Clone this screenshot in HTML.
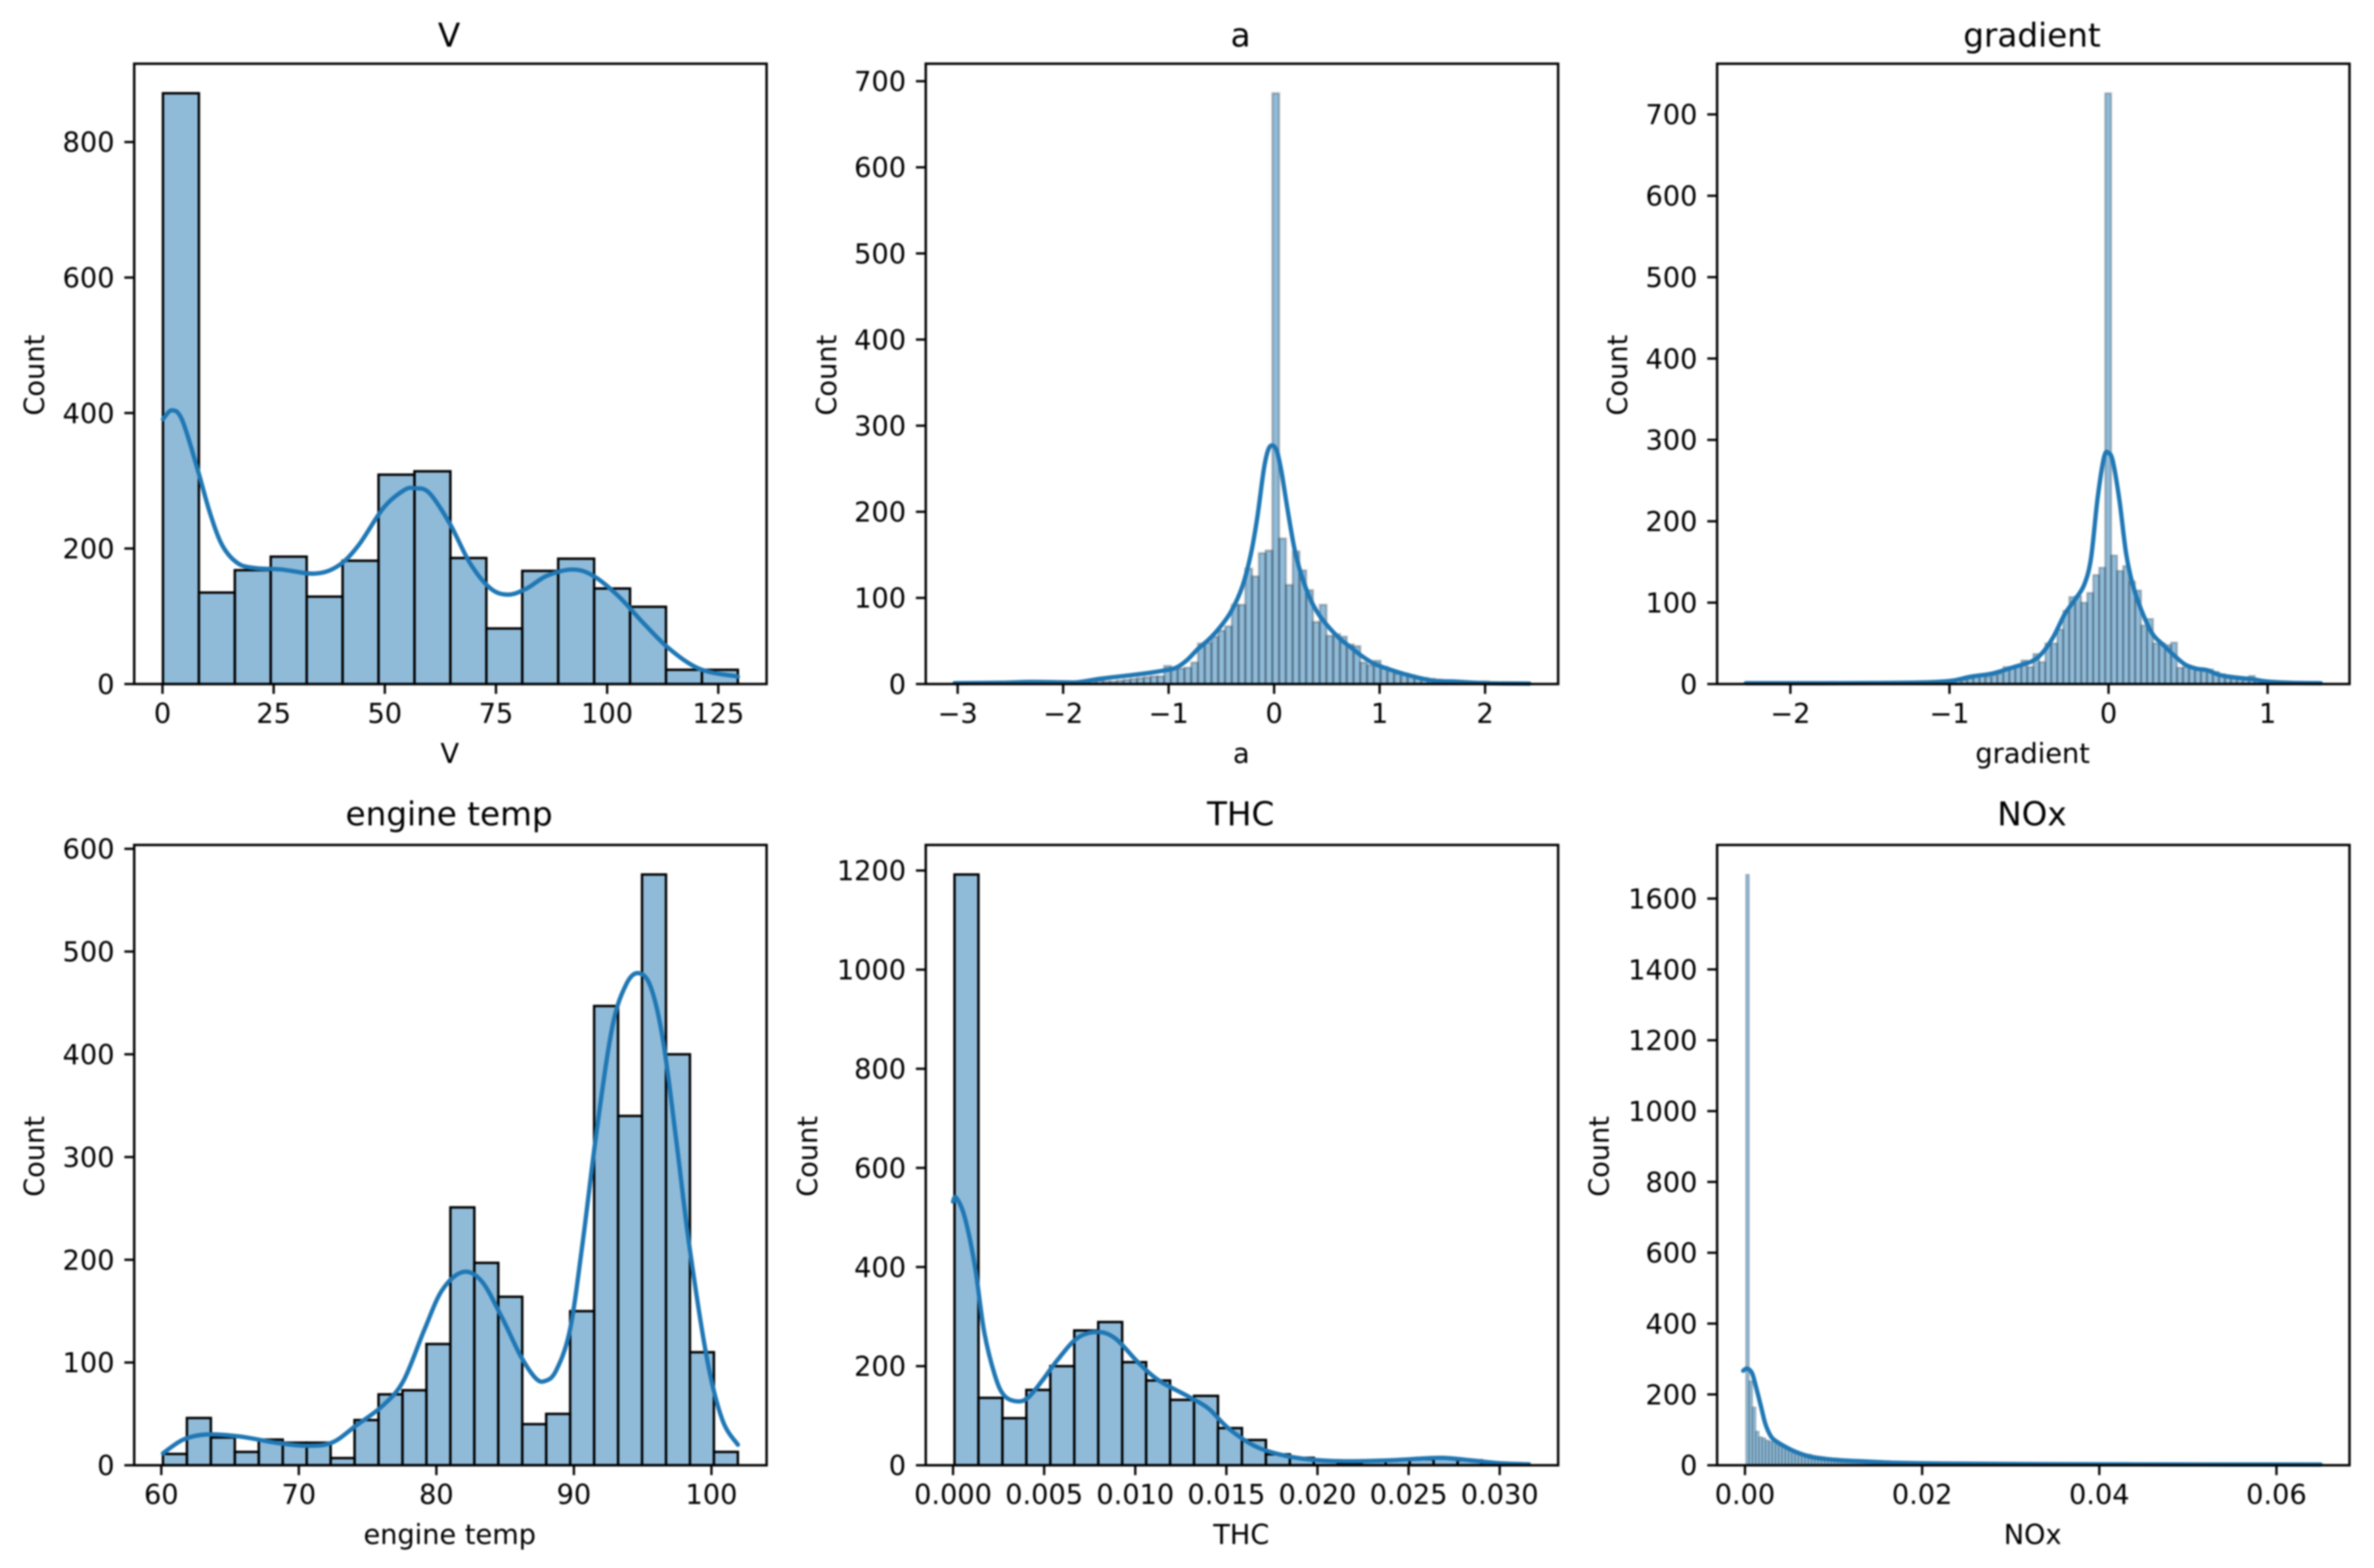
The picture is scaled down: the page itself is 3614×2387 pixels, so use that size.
<!DOCTYPE html>
<html>
<head>
<meta charset="utf-8">
<title>Distribution histograms</title>
<style>
html,body{margin:0;padding:0;background:#fff;}
body{width:3614px;height:2387px;overflow:hidden;}
svg{display:block;filter:blur(1.2px);}
text{font-family:"DejaVu Sans","Liberation Sans",sans-serif;fill:#000;}
</style>
</head>
<body>
<svg id="figure" xmlns="http://www.w3.org/2000/svg" width="3614" height="2387" viewBox="0 0 3614 2387"></svg>
<script>
// ---- V ----
const vRange = [0.1, 129.4];
const vCounts = [872,135,168,188,129,182,309,314,186,82,167,185,141,114,21,21];
const vKdeX = [0.1,2.1,4.4,7.8,10.7,13.5,17,21,26.8,34.2,39.4,44,49.7,54.3,56.8,60,64.6,69.2,73.8,77.8,81.9,86.5,92.2,96.8,102.5,108.3,114,120.9,129.4];
const vKdeY = [391,404,390,319,252,204,178,171,169,163,174,204,260,286,289,282,237,178,141,132,141,160,169,160,130,89,52,22,11];
const vXTicks = [0,25,50,75,100,125];
const vXLabels = ['0','25','50','75','100','125'];
const vYTicks = [0,200,400,600,800];
const vYLabels = ['0','200','400','600','800'];

// ---- a ----
const aRange = [-3.03, 2.42];
const aCounts = [1,1,0,1,1,1,2,2,1,2,2,2,2,1,2,2,3,3,3,2,3,4,3,3,4,5,6,7,8,9,9,21,19,18,19,25,47,48,55,62,67,92,92,134,125,152,155,686,169,115,154,132,109,72,92,56,58,55,46,44,25,22,27,20,16,12,12,10,8,7,6,5,4,4,3,3,2,2,3,2,1,1,1,1,0];
const aKdeX = [-3.03,-2.6,-2.3,-2,-1.863,-1.655,-1.448,-1.24,-1.032,-0.928,-0.824,-0.72,-0.617,-0.513,-0.409,-0.305,-0.222,-0.16,-0.098,-0.056,-0.015,0.027,0.069,0.131,0.193,0.255,0.338,0.422,0.525,0.629,0.733,0.837,0.941,1.045,1.252,1.5,1.7,2,2.42];
const aKdeY = [1,1.5,2.5,2,2,6,9,12,16,19,28,41,52,66,84,112,150,193,249,272,277,270,247,200,157,128,100,81,65,52,42,32,24,19,11,4,3,1,0.5];
const aXTicks = [-3,-2,-1,0,1,2];
const aXLabels = ['\u22123','\u22122','\u22121','0','1','2'];
const aYTicks = [0,100,200,300,400,500,600,700];
const aYLabels = ['0','100','200','300','400','500','600','700'];

// ---- gradient ----
const gRange = [-2.28, 1.334];
const gCounts = [1,0,0,1,0,0,0,0,1,0,0,0,0,1,1,2,1,0,0,1,0,1,1,0,1,1,1,1,1,2,2,2,2,3,3,4,5,7,11,12,9,11,13,21,21,23,29,21,37,27,50,50,67,90,107,108,100,112,134,143,726,158,139,145,126,115,72,80,50,50,48,51,20,21,20,19,16,18,15,12,9,8,7,6,10,5,3,2,1,1,1,1,1,1,1,1];
const gKdeX = [-2.28,-1.8,-1.444,-1.169,-0.99,-0.867,-0.729,-0.592,-0.481,-0.413,-0.344,-0.275,-0.206,-0.151,-0.11,-0.069,-0.028,0,0.028,0.069,0.11,0.151,0.206,0.275,0.344,0.413,0.481,0.55,0.619,0.7,0.8,0.9,1,1.15,1.334];
const gKdeY = [1,1,1.3,2,4,9,13,21,28,39,59,86,105,123,155,228,279,284,273,225,161,123,91,62,48,35,24,19,17,11,8,6,3,1.5,1];
const gXTicks = [-2,-1,0,1];
const gXLabels = ['\u22122','\u22121','0','1'];
const gYTicks = [0,100,200,300,400,500,600,700];
const gYLabels = ['0','100','200','300','400','500','600','700'];

// ---- engine temp ----
const eRange = [60.12, 101.92];
const eCounts = [11,46,27,13,25,22,22,7,44,69,73,118,251,197,164,40,50,150,447,340,575,400,110,13];
const eKdeX = [60.12,61.6,63.3,65.7,68.3,70.5,72.4,74.2,76.1,77.6,79.1,80.4,81.9,83.3,84.8,86.1,87.2,87.9,88.7,89.7,90.6,91.7,92.8,93.8,94.7,95.6,96.5,97.5,98.4,99.7,100.8,101.92];
const eKdeY = [11.6,25,30,28,22,19,22,39,58,82,131,170,188,179,143,107,85,82,92,131,213,330,427,468,479,465,412,310,213,102,44,20];
const eXTicks = [60,70,80,90,100];
const eXLabels = ['60','70','80','90','100'];
const eYTicks = [0,100,200,300,400,500,600];
const eYLabels = ['0','100','200','300','400','500','600'];

// ---- THC ----
const tRange = [0.00008, 0.03163];
const tCounts = [1192,136,95,152,200,272,289,208,171,132,140,75,51,22,15,10,4,10,10,12,14,10,5,3];
const tKdeX = [0,0.00017,0.00063,0.0012,0.0017,0.0023,0.0028,0.0035,0.0041,0.0049,0.0057,0.0068,0.0079,0.0089,0.0102,0.0113,0.0129,0.014,0.0151,0.0165,0.0179,0.0195,0.0215,0.024,0.0267,0.0284,0.03,0.0316];
const tKdeY = [532,540,502,402,271,181,141,129,136,171,211,256,269,256,206,171,139,115,75,40,22,12,8,10,15,10,4,2];
const tXTicks = [0,0.005,0.01,0.015,0.02,0.025,0.03];
const tXLabels = ['0.000','0.005','0.010','0.015','0.020','0.025','0.030'];
const tYTicks = [0,200,400,600,800,1000,1200];
const tYLabels = ['0','200','400','600','800','1000','1200'];

// ---- NOx ----
const nRange = [0.0001, 0.065];
const nCounts = [1668,238,164,96,80,77,71,68,65,59,56,52,49,46,43,40,37,34,32,31,28,26,25,24,22,21,20,20,18,17,17,16,15,15,14,13,13,12,12,11,11,10,10,9,9,8,8,8,7,7,6,6,6,5,5,5,5,4,4,4,4,4,3,3,3,3,3,3,3,3,2,2,2,2,2,2,2,2,2,2,2,2,2,2,2,2,2,2,2,2,2,2,2,2,2,2,2,2,2,2,1,1,1,1,1,1,1,1,1,1,1,1,1,1,1,1,1,1,1,1,1,1,1,1,1,1,1,1,1,1,1,1,1,1,1,1,1,1,1,1,1,1,1,1,1,1,1,1,1,1,1,1,1,1,1,1,1,1,1,1,1,1,1,1,1,1,1,1,1,1,1,1,1,1,1];
const nKdeX = [-0.0002,0.00025,0.0008,0.0013,0.0018,0.0023,0.0029,0.0035,0.0045,0.0057,0.0072,0.0087,0.0109,0.0134,0.0171,0.022,0.0344,0.045,0.055,0.065];
const nKdeY = [267,273,260,216,167,117,83,68,53,38,25,19,14,11,7,5,3,2.5,2.2,2];
const nXTicks = [0,0.02,0.04,0.06];
const nXLabels = ['0.00','0.02','0.04','0.06'];
const nYTicks = [0,200,400,600,800,1000,1200,1400,1600];
const nYLabels = ['0','200','400','600','800','1000','1200','1400','1600'];

// ---- layout ----
const SVG_NS = 'http://www.w3.org/2000/svg';
const colLeft = [204.3, 1409.3, 2614];
const rowTop = [97, 1286.3];
const titleGap = [26, 30];
const axW = 962.7;
const axH = 944.3;
const TICK_FONT = 41.4;
const TITLE_FONT = 49.7;
const FILL = '#1f77b4';

const panels = [
  {id:'v', title:'V', col:0, row:0, range:vRange, counts:vCounts, kdeX:vKdeX, kdeY:vKdeY, xTicks:vXTicks, xLabels:vXLabels, yTicks:vYTicks, yLabels:vYLabels, countX:67, edgeW:3.7, edgeO:1},
  {id:'a', title:'a', col:1, row:0, range:aRange, counts:aCounts, kdeX:aKdeX, kdeY:aKdeY, xTicks:aXTicks, xLabels:aXLabels, yTicks:aYTicks, yLabels:aYLabels, countX:1273, edgeW:3.5, edgeO:0.22},
  {id:'gradient', title:'gradient', col:2, row:0, range:gRange, counts:gCounts, kdeX:gKdeX, kdeY:gKdeY, xTicks:gXTicks, xLabels:gXLabels, yTicks:gYTicks, yLabels:gYLabels, countX:2477, edgeW:3, edgeO:0.22},
  {id:'engine-temp', title:'engine temp', col:0, row:1, range:eRange, counts:eCounts, kdeX:eKdeX, kdeY:eKdeY, xTicks:eXTicks, xLabels:eXLabels, yTicks:eYTicks, yLabels:eYLabels, countX:67, edgeW:3.7, edgeO:1},
  {id:'thc', title:'THC', col:1, row:1, range:tRange, counts:tCounts, kdeX:tKdeX, kdeY:tKdeY, xTicks:tXTicks, xLabels:tXLabels, yTicks:tYTicks, yLabels:tYLabels, countX:1244, edgeW:3.7, edgeO:1},
  {id:'nox', title:'NOx', col:2, row:1, range:nRange, counts:nCounts, kdeX:nKdeX, kdeY:nKdeY, xTicks:nXTicks, xLabels:nXLabels, yTicks:nYTicks, yLabels:nYLabels, countX:2449, edgeW:2, edgeO:0.2}
];

function make(tag, attrs, parent) {
  const el = document.createElementNS(SVG_NS, tag);
  for (const k in attrs) el.setAttribute(k, attrs[k]);
  parent.appendChild(el);
  return el;
}

function smoothPath(pts) {
  let d = 'M' + pts[0][0].toFixed(2) + ' ' + pts[0][1].toFixed(2);
  for (let i = 0; i < pts.length - 1; i++) {
    const p0 = pts[Math.max(i - 1, 0)];
    const p1 = pts[i];
    const p2 = pts[i + 1];
    const p3 = pts[Math.min(i + 2, pts.length - 1)];
    const c1x = p1[0] + (p2[0] - p0[0]) / 6;
    const c1y = p1[1] + (p2[1] - p0[1]) / 6;
    const c2x = p2[0] - (p3[0] - p1[0]) / 6;
    const c2y = p2[1] - (p3[1] - p1[1]) / 6;
    d += 'C' + c1x.toFixed(2) + ' ' + c1y.toFixed(2) + ' ' + c2x.toFixed(2) + ' ' + c2y.toFixed(2) + ' ' + p2[0].toFixed(2) + ' ' + p2[1].toFixed(2);
  }
  return d;
}

function drawPanel(p) {
  const svg = document.getElementById('figure');
  const left = colLeft[p.col];
  const top = rowTop[p.row];
  const bottom = top + axH;
  const centerX = left + axW / 2;
  const centerY = top + axH / 2;

  const span = p.range[1] - p.range[0];
  const domMin = p.range[0] - 0.05 * span;
  const domMax = p.range[1] + 0.05 * span;
  const yMax = Math.max.apply(null, p.counts) * 1.05;
  const xScale = v => left + (v - domMin) / (domMax - domMin) * axW;
  const yScale = v => bottom - v / yMax * axH;

  const g = make('g', {}, svg);
  
  

  const binW = span / p.counts.length;
  p.counts.forEach((c, i) => {
    const x0 = xScale(p.range[0] + i * binW);
    const x1 = xScale(p.range[0] + (i + 1) * binW);
    const y = yScale(c);
    const bar = make('rect', {x:x0.toFixed(2), y:y.toFixed(2), width:(x1 - x0).toFixed(2), height:(bottom - y).toFixed(2), fill:FILL, 'fill-opacity':0.5, stroke:'#000', 'stroke-opacity':p.edgeO, 'stroke-width':p.edgeW}, g);
    
    
  });

  const kdePts = p.kdeX.map((x, i) => [xScale(x), yScale(p.kdeY[i])]);
  const kde = make('path', {d:smoothPath(kdePts), fill:'none', stroke:FILL, 'stroke-width':6.6, 'stroke-linejoin':'round', 'stroke-linecap':'round'}, g);
  
  

  const frame = make('rect', {x:left, y:top, width:axW, height:axH, fill:'none', stroke:'#000', 'stroke-width':3.7}, g);
  
  

  p.xTicks.forEach((v, i) => {
    const x = xScale(v);
    const tick = make('line', {x1:x, x2:x, y1:bottom, y2:bottom + 15, stroke:'#000', 'stroke-width':3.5}, g);
    
    
    const label = make('text', {x:x, y:bottom + 59, 'text-anchor':'middle', 'font-size':TICK_FONT}, g);
    label.textContent = p.xLabels[i];
    
    
  });

  p.yTicks.forEach((v, i) => {
    const y = yScale(v);
    const tick = make('line', {x1:left - 15, x2:left, y1:y, y2:y, stroke:'#000', 'stroke-width':3.5}, g);
    
    
    const label = make('text', {x:left - 30, y:y + 15, 'text-anchor':'end', 'font-size':TICK_FONT}, g);
    label.textContent = p.yLabels[i];
    
    
  });

  const title = make('text', {x:centerX - 2, y:top - titleGap[p.row], 'text-anchor':'middle', 'font-size':TITLE_FONT}, g);
  title.textContent = p.title;
  
  

  const xTitle = make('text', {x:centerX - 1, y:bottom + 120, 'text-anchor':'middle', 'font-size':TICK_FONT}, g);
  xTitle.textContent = p.title;
  
  

  const yTitle = make('text', {x:p.countX, y:centerY + 2, 'text-anchor':'middle', 'font-size':TICK_FONT, transform:'rotate(-90 ' + p.countX + ' ' + (centerY + 2) + ')'}, g);
  yTitle.textContent = 'Count';
  
  
}

panels.forEach(drawPanel);
</script>
</body>
</html>
